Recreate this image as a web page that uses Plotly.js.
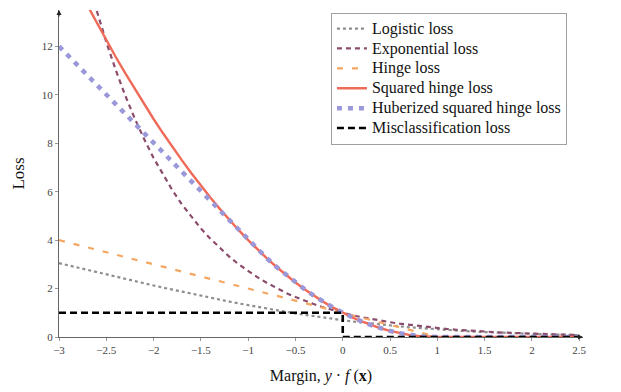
<!DOCTYPE html>
<html>
<head>
<meta charset="utf-8">
<script src="https://cdn.plot.ly/plotly-3.0.1.min.js"></script>
<style>html,body{margin:0;padding:0;background:#fff;}#chart{width:621px;height:392px;}</style>
</head>
<body>
<div id="chart"></div>
<script>
// Logistic loss
var logX = [-3.0,-2.9,-2.8,-2.7,-2.6,-2.5,-2.4,-2.3,-2.2,-2.1,-2.0,-1.9,-1.8,-1.7,-1.6,-1.5,-1.4,-1.3,-1.2,-1.1,-1.0,-0.9,-0.8,-0.7,-0.6,-0.5,-0.4,-0.3,-0.2,-0.1,0.0,0.1,0.2,0.3,0.4,0.5,0.6,0.7,0.8,0.9,1.0,1.1,1.2,1.3,1.4,1.5,1.6,1.7,1.8,1.9,2.0,2.1,2.2,2.3,2.4,2.5];
var logY = [3.049,2.954,2.859,2.765,2.672,2.579,2.487,2.396,2.305,2.216,2.127,2.039,1.953,1.868,1.784,1.701,1.620,1.541,1.463,1.387,1.313,1.241,1.171,1.103,1.038,0.974,0.913,0.854,0.798,0.744,0.693,0.644,0.598,0.554,0.513,0.474,0.438,0.403,0.371,0.341,0.313,0.287,0.263,0.241,0.220,0.201,0.184,0.168,0.153,0.139,0.127,0.116,0.105,0.096,0.087,0.079];
// Exponential loss
var expX = [-2.6,-2.5,-2.4,-2.3,-2.2,-2.1,-2.0,-1.9,-1.8,-1.7,-1.6,-1.5,-1.4,-1.3,-1.2,-1.1,-1.0,-0.9,-0.8,-0.7,-0.6,-0.5,-0.4,-0.3,-0.2,-0.1,0.0,0.1,0.2,0.3,0.4,0.5,0.6,0.7,0.8,0.9,1.0,1.1,1.2,1.3,1.4,1.5,1.6,1.7,1.8,1.9,2.0,2.1,2.2,2.3,2.4,2.5];
var expY = [13.46,12.18,11.02,9.97,9.03,8.17,7.39,6.69,6.05,5.47,4.95,4.48,4.06,3.67,3.32,3.00,2.72,2.46,2.23,2.01,1.82,1.65,1.49,1.35,1.22,1.11,1.00,0.90,0.82,0.74,0.67,0.61,0.55,0.50,0.45,0.41,0.37,0.33,0.30,0.27,0.25,0.22,0.20,0.18,0.17,0.15,0.14,0.12,0.11,0.10,0.09,0.08];
// Hinge loss
var hingeX = [-3.0, 1.0, 2.5];
var hingeY = [4.0, 0.0, 0.0];
// Squared hinge loss
var sqX = [-2.7,-2.6,-2.5,-2.4,-2.3,-2.2,-2.1,-2.0,-1.9,-1.8,-1.7,-1.6,-1.5,-1.4,-1.3,-1.2,-1.1,-1.0,-0.9,-0.8,-0.7,-0.6,-0.5,-0.4,-0.3,-0.2,-0.1,0.0,0.1,0.2,0.3,0.4,0.5,0.6,0.7,0.8,0.9,1.0,2.5];
var sqY = [13.69,12.96,12.25,11.56,10.89,10.24,9.61,9.00,8.41,7.84,7.29,6.76,6.25,5.76,5.29,4.84,4.41,4.00,3.61,3.24,2.89,2.56,2.25,1.96,1.69,1.44,1.21,1.00,0.81,0.64,0.49,0.36,0.25,0.16,0.09,0.04,0.01,0.0,0.0];
// Huberized squared hinge loss
var hubX = [-3.0,-1.0,-0.9,-0.8,-0.7,-0.6,-0.5,-0.4,-0.3,-0.2,-0.1,0.0,0.1,0.2,0.3,0.4,0.5,0.6,0.7,0.8,0.9,1.0,2.5];
var hubY = [12.0,4.00,3.61,3.24,2.89,2.56,2.25,1.96,1.69,1.44,1.21,1.00,0.81,0.64,0.49,0.36,0.25,0.16,0.09,0.04,0.01,0.0,0.0];
// Misclassification loss
var misX = [-3.0, 0.0, 0.0, 2.5];
var misY = [1.0, 1.0, 0.0, 0.0];

var seriesNames = ['Logistic loss', 'Exponential loss', 'Hinge loss', 'Squared hinge loss', 'Huberized squared hinge loss', 'Misclassification loss'];
var xTicks = [-3,-2.5,-2,-1.5,-1,-0.5,0,0.5,1,1.5,2,2.5];
var yTicks = [0,2,4,6,8,10,12];

var serif = "'Liberation Serif', 'Times New Roman', Times, serif";
function lg(s){ return '<span style="font-size:16px">' + s + '</span>'; }

var traces = [
  {x: logX, y: logY, name: lg(seriesNames[0]), mode: 'lines', line: {color: '#8e8e8e', width: 2.2, dash: 'dot'}},
  {x: expX, y: expY, name: lg(seriesNames[1]), mode: 'lines', line: {color: '#8c4c6c', width: 2.2, dash: '5px,4px'}},
  {x: hingeX, y: hingeY, name: lg(seriesNames[2]), mode: 'lines', line: {color: '#f5a660', width: 2.2, dash: '6px,9px'}},
  {x: sqX, y: sqY, name: lg(seriesNames[3]), mode: 'lines', line: {color: '#ef6a58', width: 2.4}},
  {x: hubX, y: hubY, name: lg(seriesNames[4]), mode: 'lines', line: {color: '#9a98d8', width: 4.5, dash: '5px,6px'}},
  {x: misX, y: misY, name: lg(seriesNames[5]), mode: 'lines', line: {color: '#000000', width: 2.6, dash: '7px,4px'}}
];

var layout = {
  width: 621, height: 392,
  margin: {l: 59, r: 38, t: 10, b: 55},
  paper_bgcolor: '#ffffff', plot_bgcolor: '#ffffff',
  font: {family: serif, color: '#222'},
  showlegend: true,
  legend: {
    x: 0.519, y: 0.992, xanchor: 'left', yanchor: 'top',
    bordercolor: '#a0a0a0', borderwidth: 1, bgcolor: '#ffffff',
    font: {family: serif, size: 13, color: '#111'},
    tracegroupgap: 0
  },
  xaxis: {
    range: [-3, 2.54], tickvals: xTicks, ticktext: xTicks.map(function(v){return (v<0?'\u2212':'')+Math.abs(v);}),
    showgrid: false, zeroline: false, showline: true, linecolor: '#666', linewidth: 1,
    ticks: 'outside', ticklen: 3, tickcolor: '#999', tickfont: {family: serif, size: 11, color: '#444'},
    title: {text: 'Margin, <i>y</i> \u00b7 <i>f</i> (<b>x</b>)', font: {family: serif, size: 16, color: '#111'}, standoff: 14}
  },
  yaxis: {
    range: [0, 13.5], tickvals: yTicks,
    showgrid: false, zeroline: false, showline: true, linecolor: '#666', linewidth: 1,
    ticks: 'outside', ticklen: 3, tickcolor: '#999', tickfont: {family: serif, size: 11, color: '#444'},
    title: {text: 'Loss', font: {family: serif, size: 17, color: '#111'}, standoff: 12}
  },
  annotations: [
    {xref: 'paper', yref: 'paper', x: 0, y: 1.0, ax: 0, ay: 8, showarrow: true, arrowhead: 2, arrowsize: 1, arrowwidth: 1, arrowcolor: '#222', text: ''},
    {xref: 'paper', yref: 'paper', x: 1.0, y: 0, ax: -8, ay: 0, showarrow: true, arrowhead: 2, arrowsize: 1, arrowwidth: 1, arrowcolor: '#222', text: ''}
  ]
};

Plotly.newPlot('chart', traces, layout, {displayModeBar: false, staticPlot: true});
</script>
</body>
</html>
